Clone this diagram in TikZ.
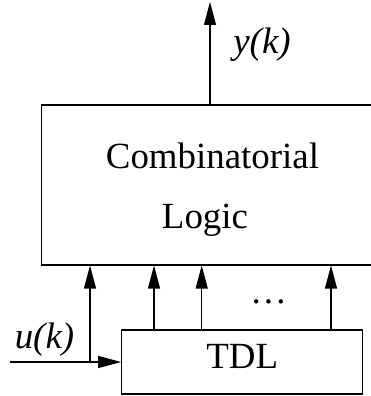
\documentclass[tikz,border=0pt]{standalone}
\usepackage{fontspec}
\setmainfont{Liberation Serif}
\usetikzlibrary{calc,positioning,arrows.meta}

\begin{document}
\begin{tikzpicture}[x=0.02cm, y=-0.02cm,
    sig/.style={line width=0.6pt, -{Triangle[length=0.46cm, width=0.24cm]}},
    blk/.style={draw, line width=0.6pt, rectangle, inner sep=0pt},
    txt/.style={anchor=base, inner sep=0pt, font=\fontsize{21}{25}\selectfont}]
  \useasboundingbox (0,0) rectangle (371,396);

  % Combinatorial logic
  \node[blk, minimum width=6.8cm, minimum height=3.2cm] (logic) at (211.5,185) {};
  \node[txt] (comb) at (212.5,168) {Combinatorial};
  \node[txt] (lgc) at (205,228) {Logic};

  % TDL
  \node[blk, minimum width=4.826cm, minimum height=1.28cm, text height=0.49cm,
        text depth=0.25cm, font=\fontsize{21}{25}\selectfont] (tdl) at (242.3,362) {TDL};

  % Input
  \coordinate (in) at (10,362);
  \coordinate (tap) at (90,362);
  \draw[sig] (in) -- (tdl.west);
  \draw[sig] (tap) -- (logic.south -| tap);
  \node[txt, font=\fontsize{21}{25}\selectfont\itshape] (u) at (44.5,348) {u(k)};

  % Delayed taps
  \foreach \x in {154,201.7,331}
    \draw[sig] (tdl.north -| \x,0) -- (logic.south -| \x,0);
  \node[txt] (dots) at (268.5,303) {…};

  % Output
  \coordinate (out) at (210,2);
  \draw[sig] (logic.north -| out) -- (out);
  \node[txt, font=\fontsize{21}{25}\selectfont\itshape] (y) at (262,53) {y(k)};
\end{tikzpicture}
\end{document}
